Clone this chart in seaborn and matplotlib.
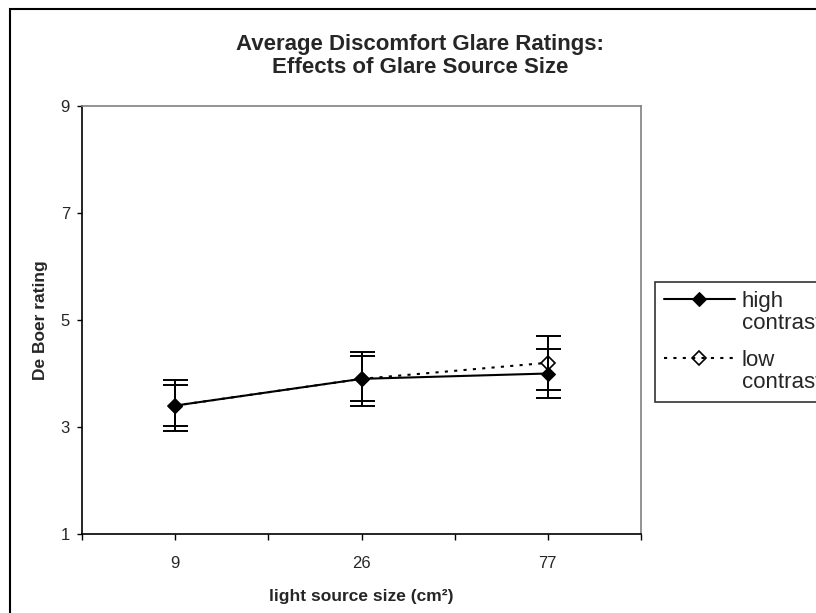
import numpy as np
import pandas as pd
import matplotlib
matplotlib.use("Agg")
import matplotlib.pyplot as plt
import seaborn as sns
from matplotlib.lines import Line2D
from matplotlib.legend_handler import HandlerLine2D
from matplotlib.patches import Rectangle

# ---- data ----
sizes = ["9", "26", "77"]
high_mean = [3.4, 3.9, 4.0]
high_err = [0.48, 0.50, 0.45]
low_mean = [3.4, 3.9, 4.2]
low_err = [0.38, 0.42, 0.50]
series_labels = ["high\ncontrast", "low\ncontrast"]
y_ticks = [1, 3, 5, 7, 9]

sns.set_theme(style="white")
plt.rcParams["font.family"] = ["Liberation Sans", "DejaVu Sans"]

W, H = 816, 613
fig = plt.figure(figsize=(W / 100, H / 100), dpi=100)
ax = fig.add_axes([82 / W, (H - 534) / H, (641 - 82) / W, (534 - 106) / H])

pos = np.arange(len(sizes))
df_high = pd.DataFrame({"pos": pos, "rating": high_mean})
df_low = pd.DataFrame({"pos": pos, "rating": low_mean})

# error bars
ax.errorbar(pos, low_mean, yerr=low_err, fmt="none", ecolor="black",
            elinewidth=1.4, capsize=9, capthick=1.4, zorder=2)
ax.errorbar(pos, high_mean, yerr=high_err, fmt="none", ecolor="black",
            elinewidth=1.4, capsize=9, capthick=1.4, zorder=2)

# lines
sns.lineplot(data=df_low, x="pos", y="rating", ax=ax, color="black",
             linestyle=(0, (1.5, 3.0)), linewidth=1.5, marker="D",
             markersize=7, markerfacecolor="none", markeredgecolor="black",
             markeredgewidth=1.2, label=series_labels[1], zorder=3)
sns.lineplot(data=df_high, x="pos", y="rating", ax=ax, color="black",
             linestyle="-", linewidth=1.5, marker="D", markersize=7,
             markerfacecolor="black", markeredgecolor="black",
             label=series_labels[0], zorder=4)

ax.set_xlim(-0.5, len(sizes) - 0.5)
ax.set_ylim(1, 9)
ax.set_xticks(pos)
ax.set_xticklabels(sizes)
ax.set_xticks(np.arange(-0.5, len(sizes), 1.0), minor=True)
ax.set_yticks(y_ticks)
ax.tick_params(axis="x", which="both", direction="out", length=4.5, width=1,
               color="black", labelsize=12, pad=11, bottom=True)
ax.tick_params(axis="y", which="major", direction="out", length=3.6, width=1,
               color="black", labelsize=12, pad=5, left=True)
ax.grid(False)

for s in ["left", "bottom"]:
    ax.spines[s].set_color("black")
    ax.spines[s].set_linewidth(1.2)
for s in ["top", "right"]:
    ax.spines[s].set_color("#808080")
    ax.spines[s].set_linewidth(1.2)

ax.set_xlabel("light source size (cm²)", fontsize=12.5,
              fontweight="bold", va="center")
ax.xaxis.set_label_coords(0.5, (534 - 597) / 428)
ax.set_ylabel("De Boer rating", fontsize=12.5, fontweight="bold", va="center")
ax.yaxis.set_label_coords((41 - 82) / 559, 0.5)

fig.suptitle("Average Discomfort Glare Ratings:\nEffects of Glare Source Size",
             x=420 / W, y=1 - 56 / H, va="center", ha="center",
             fontsize=16, fontweight="bold", linespacing=1.15)

# legend
handles, labels = ax.get_legend_handles_labels()
ax.get_legend().remove()
order = [labels.index(series_labels[0]), labels.index(series_labels[1])]
handles = [handles[i] for i in order]
labels = [labels[i] for i in order]


class UpHandler(HandlerLine2D):
    def create_artists(self, legend, orig_handle, xdescent, ydescent, width,
                       height, fontsize, trans):
        shift = 0.62 * fontsize
        return super().create_artists(legend, orig_handle, xdescent,
                                      ydescent - 2 * shift, width, height,
                                      fontsize, trans)


leg = fig.legend(handles, labels, loc="upper left",
                 bbox_to_anchor=(655 / W, 1 - 282 / H), borderaxespad=0,
                 fontsize=16, frameon=True, fancybox=False, edgecolor="black",
                 handlelength=3.2, handletextpad=0.3, borderpad=0.4,
                 labelspacing=0.75, numpoints=1,
                 handler_map={Line2D: UpHandler(numpoints=1)})
leg.get_frame().set_linewidth(1.2)
for t in leg.get_texts():
    t.set_linespacing(1.05)

# outer chart frame
fig.patches.append(Rectangle((10 / W, -0.5), 2, 1.5 - 9 / H,
                             transform=fig.transFigure, fill=False,
                             edgecolor="black", linewidth=1.5))

fig.savefig("out.png", dpi=100)
